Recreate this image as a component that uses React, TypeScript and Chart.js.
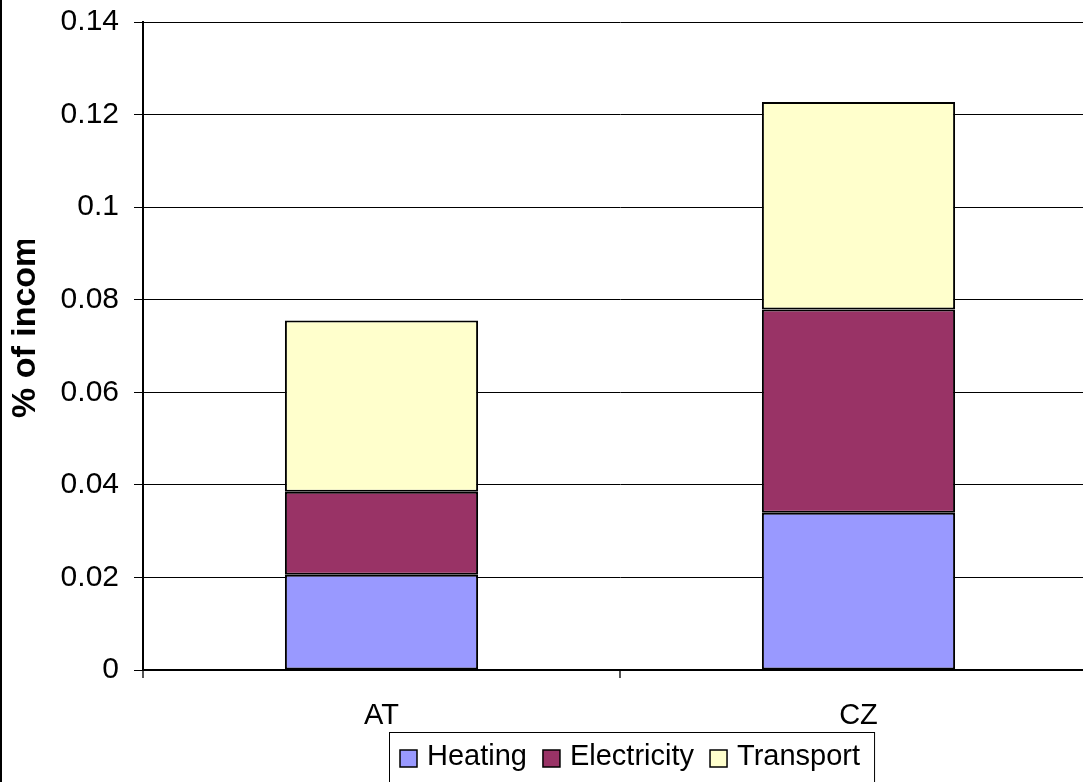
import React, { useEffect, useRef } from "react";
import { Chart, registerables } from "chart.js";

Chart.register(...registerables);

const categories: string[] = ["AT", "CZ"];
const heating: number[] = [0.0206, 0.034];
const electricity: number[] = [0.0179, 0.0439];
const transport: number[] = [0.037, 0.0448];
const seriesNames: string[] = ["Heating", "Electricity", "Transport"];
const seriesColors: string[] = ["#9999FF", "#993366", "#FFFFCC"];
const yAxisTitle = "% of income";
const yMin = 0;
const yMax = 0.14;
const yStep = 0.02;

const FONT = "'Liberation Sans', Arial, sans-serif";

const titlePlugin = {
  id: "clippedTitle",
  afterDraw(chart: any) {
    const ctx = chart.ctx;
    ctx.save();
    ctx.beginPath();
    ctx.rect(0, 240, 140, 560);
    ctx.clip();
    ctx.translate(26, 418);
    ctx.rotate(-Math.PI / 2);
    ctx.font = `bold 34px ${FONT}`;
    ctx.fillStyle = "#000";
    ctx.textAlign = "left";
    ctx.textBaseline = "middle";
    ctx.fillText(yAxisTitle, 0, 0);
    ctx.restore();
  },
};

const legendPlugin = {
  id: "boxLegend",
  afterDraw(chart: any) {
    const ctx = chart.ctx;
    ctx.save();
    ctx.font = `29px ${FONT}`;
    ctx.textBaseline = "alphabetic";
    ctx.textAlign = "left";
    const left = 389;
    const top = 732;
    let x = 400;
    const datasets = chart.data.datasets;
    datasets.forEach((ds: any, i: number) => {
      ctx.fillStyle = ds.backgroundColor;
      ctx.fillRect(x, 750, 17, 17);
      ctx.strokeStyle = "#000";
      ctx.lineWidth = 1.5;
      ctx.strokeRect(x, 750, 17, 17);
      x += 27;
      ctx.fillStyle = "#000";
      ctx.fillText(ds.label, x, 765);
      x += ctx.measureText(ds.label).width + (i < datasets.length - 1 ? 16 : 14);
    });
    ctx.strokeStyle = "#000";
    ctx.lineWidth = 1;
    ctx.strokeRect(left + 0.5, top + 0.5, x - left, 80);
    ctx.restore();
  },
};

export default function App() {
  const ref = useRef<HTMLCanvasElement | null>(null);

  useEffect(() => {
    if (!ref.current) return;
    const data = [heating, electricity, transport];
    const chart = new Chart(ref.current, {
      type: "bar",
      data: {
        labels: categories,
        datasets: seriesNames.map((name, i) => ({
          label: name,
          data: data[i],
          backgroundColor: seriesColors[i],
          borderColor: "#000",
          borderWidth: 2,
          borderSkipped: false,
          categoryPercentage: 1,
          barPercentage: 0.405,
        })),
      },
      options: {
        animation: false,
        responsive: false,
        maintainAspectRatio: false,
        layout: { padding: { left: 43, top: 22, right: 13, bottom: 50 } },
        plugins: {
          legend: { display: false },
          tooltip: { enabled: false },
          title: { display: false },
        },
        scales: {
          x: {
            stacked: true,
            offset: true,
            grid: {
              offset: true,
              drawOnChartArea: false,
              drawTicks: true,
              tickLength: 8,
              color: "#555",
              lineWidth: 2,
            },
            border: { display: true, color: "#000", width: 2 },
            ticks: {
              color: "#000",
              font: { family: FONT, size: 29 },
              padding: 21,
            },
            afterFit: (axis: any) => {
              axis.height = 80;
            },
          },
          y: {
            stacked: true,
            min: yMin,
            max: yMax,
            grid: {
              color: "#000",
              lineWidth: 1,
              drawTicks: true,
              tickLength: 9,
            },
            border: { display: true, color: "#000", width: 2 },
            ticks: {
              stepSize: yStep,
              color: "#000",
              font: { family: FONT, size: 30 },
              padding: 15,
              callback: (v: any) => String(Math.round(Number(v) * 100) / 100),
            },
            afterFit: (axis: any) => {
              axis.width = 100;
              axis.paddingTop = 0;
              axis.paddingBottom = 0;
            },
          },
        },
      },
      plugins: [titlePlugin, legendPlugin],
    });
    return () => chart.destroy();
  }, []);

  return (
    <div
      style={{
        position: "fixed",
        left: 0,
        top: 0,
        width: 1083,
        height: 782,
        overflow: "hidden",
        background: "#fff",
      }}
    >
      <canvas ref={ref} width={1110} height={800} style={{ display: "block" }} />
      <div
        style={{
          position: "absolute",
          left: 0,
          top: 0,
          width: 2,
          height: 782,
          background: "#000",
        }}
      />
    </div>
  );
}
